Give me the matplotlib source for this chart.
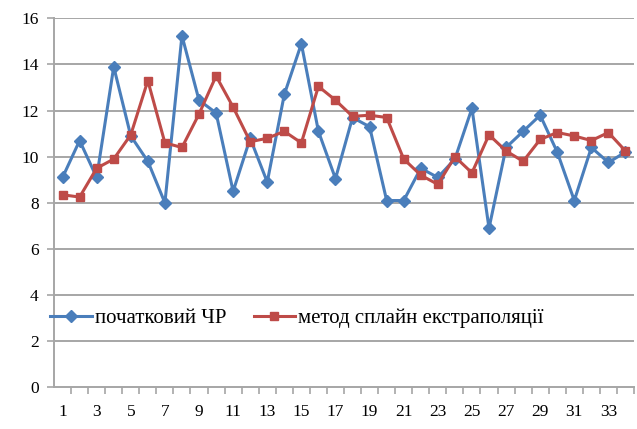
import numpy as np
import matplotlib
matplotlib.use("Agg")
import matplotlib.pyplot as plt

# номер точки ряду
points = list(range(1, 35))

# початковий часовий ряд
initial = [9.1, 10.7, 9.1, 13.9, 10.9, 9.8, 8.0, 15.25, 12.45, 11.9,
           8.5, 10.8, 8.9, 12.7, 14.9, 11.1, 9.05, 11.7, 11.3, 8.1,
           8.1, 9.5, 9.1, 9.9, 12.1, 6.9, 10.4, 11.1, 11.8, 10.2,
           8.1, 10.4, 9.75, 10.2]

# метод сплайн екстраполяції
spline = [8.35, 8.25, 9.5, 9.9, 10.95, 13.3, 10.6, 10.4, 11.85, 13.5,
          12.15, 10.65, 10.8, 11.1, 10.6, 13.05, 12.45, 11.75, 11.8, 11.7,
          9.9, 9.2, 8.8, 10.0, 9.3, 10.95, 10.25, 9.8, 10.75, 11.05,
          10.9, 10.7, 11.05, 10.25]

labels = ["початковий ЧР", "метод сплайн екстраполяції"]
y_ticks = list(range(0, 17, 2))
x_labels = [str(i) for i in range(1, 35, 2)]

plt.rcParams['font.family'] = ['Liberation Serif', 'DejaVu Serif']

fig = plt.figure(figsize=(6.37, 4.29), dpi=100)
ax = fig.add_axes([0.0848, 0.0972, 0.9105, 0.860])

grid_c = '#a6a6a6'
for y in y_ticks[1:]:
    ax.axhline(y, color=grid_c, lw=1.4, zorder=1)

ax.plot(points, initial, color='#4a7ebb', lw=2.2, marker='D', ms=6.5,
        label=labels[0], zorder=3)
ax.plot(points, spline, color='#be4b48', lw=2.2, marker='s', ms=6,
        label=labels[1], zorder=3)

ax.set_xlim(0.5, 34.5)
ax.set_ylim(0, 16)

for s in ['top', 'right']:
    ax.spines[s].set_visible(False)
for s in ['left', 'bottom']:
    ax.spines[s].set_color(grid_c)
    ax.spines[s].set_linewidth(1.4)

ax.set_yticks(y_ticks)
ax.set_yticklabels([str(v) for v in y_ticks], fontsize=12.5)
ax.tick_params(axis='y', length=5, width=1.2, color=grid_c, pad=6)

# риски між категоріями, підписи під категоріями
ax.set_xticks(np.arange(1.5, 35, 1))
ax.set_xticklabels([])
ax.tick_params(axis='x', which='major', length=5, width=1.2, color=grid_c)
ax.set_xticks(range(1, 35, 2), minor=True)
ax.set_xticklabels(x_labels, minor=True, fontsize=12.5)
ax.tick_params(axis='x', which='minor', length=0, pad=12)

ax.legend(loc='center left', bbox_to_anchor=(-0.021, 3.0 / 16), ncol=2,
          frameon=False, fontsize=15, handlelength=2.0,
          handletextpad=0.15, columnspacing=1.3, borderaxespad=0)

fig.savefig('out.png', dpi=100)
